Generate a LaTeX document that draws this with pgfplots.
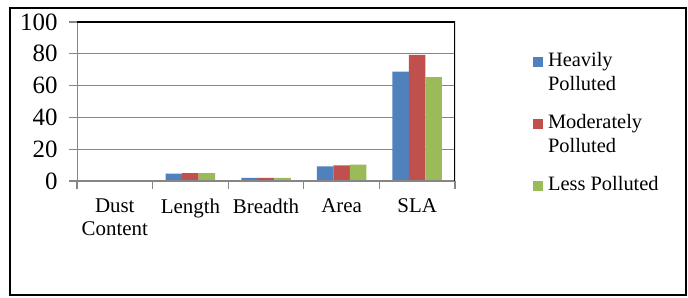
\documentclass[border=0pt]{standalone}
\usepackage{fontspec}
\setmainfont{Liberation Serif}
\usepackage{pgfplots}
\pgfplotsset{compat=1.18}
\definecolor{cblue}{HTML}{4F81BD}
\definecolor{cred}{HTML}{C0504D}
\definecolor{cgreen}{HTML}{9BBB59}
\definecolor{cgrid}{HTML}{868686}
\newcommand{\rowA}{\rule[-5bp]{0pt}{20bp}}
\newcommand{\rowB}{\rule[-19bp]{0pt}{34bp}}
\begin{document}
\begin{tikzpicture}
\useasboundingbox (-77bp,-117bp) rectangle (611bp,181bp);
\draw[black, line width=1.2bp] (-67bp,-114bp) rectangle (609bp,173bp);
\begin{axis}[
  at={(0bp,0bp)}, anchor=south west,
  scale only axis, width=378bp, height=159bp,
  ymin=0, ymax=100, ytick={0,20,...,100},
  xmin=-0.5, xmax=4.5,
  xtick={-0.5,0.5,...,4.5},
  xticklabels={{Dust\\Content},Length,Breadth,Area,SLA,{}},
  xticklabel style={align=center, xshift=37.8bp, yshift=-6bp, font=\fontsize{21}{23}\selectfont},
  yticklabel style={xshift=-8bp, font=\fontsize{25}{25}\selectfont},
  /pgf/number format/assume math mode=true,
  axis line style={draw=none},
  ymajorgrids, grid style={cgrid, line width=1.3bp},
  major tick style={cgrid, line width=1.3bp},
  major tick length=8bp,
  tick align=outside, tick pos=left,
  bar width=16.5bp,
  legend style={at={(1.198,0.84)}, anchor=north west, draw=none, fill=none,
    font=\fontsize{20.5}{24}\selectfont, cells={anchor=west},
    nodes={inner sep=2bp, text depth=}, row sep=0bp, column sep=3bp},
  legend image code/.code={\fill[#1] (0bp,-5bp) rectangle (10bp,5bp);},
]
\addplot[ybar, bar shift=-16.5bp, fill=cblue, draw=none] coordinates {(0,0) (1,4.6) (2,1.9) (3,9.2) (4,68.8)};
\addlegendentry{\rowA Heavily}
\addlegendimage{empty legend}
\addlegendentry{\rowB Polluted}
\addplot[ybar, bar shift=0bp, fill=cred, draw=none] coordinates {(0,0) (1,5.0) (2,1.9) (3,9.9) (4,79.4)};
\addlegendentry{\rowA Moderately}
\addlegendimage{empty legend}
\addlegendentry{\rowB Polluted}
\addplot[ybar, bar shift=16.5bp, fill=cgreen, draw=none] coordinates {(0,0) (1,5.0) (2,2.0) (3,10.3) (4,65.3)};
\addlegendentry{\rowA Less Polluted}
\draw[cgrid, line width=1.3bp] (rel axis cs:0,1) -- (rel axis cs:0,0) -- (rel axis cs:1,0);
\draw[black, line width=1.6bp] (rel axis cs:0,1) -- (rel axis cs:1,1) -- (rel axis cs:1,0);
\end{axis}
\end{tikzpicture}
\end{document}
